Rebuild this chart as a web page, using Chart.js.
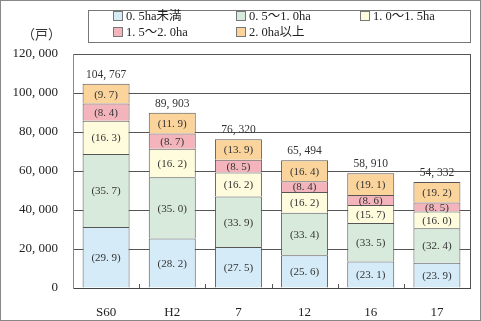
<!DOCTYPE html>
<html>
<head>
<meta charset="utf-8">
<script src="https://cdn.jsdelivr.net/npm/chart.js@4"></script>
<style>
  body { margin: 0; background: #fff; }
  #wrap { position: relative; width: 481px; height: 321px; }
  #unit {
    position: absolute; left: 22px; top: 24px;
    font: 13px 'Liberation Serif', 'Noto Sans CJK JP', serif; color: #333;
  }
  #legend {
    position: absolute; left: 88px; top: 10px; width: 383px; height: 33px;
    border: 1px solid #777; box-sizing: border-box;
  }
  .item {
    position: absolute; white-space: nowrap; color: #222;
    font: 12.5px 'Liberation Serif', 'Noto Sans CJK JP', serif; line-height: 14px;
  }
  .item i {
    display: inline-block; width: 8px; height: 8px; border: 1px solid #777;
    margin-right: 3px; vertical-align: -1px;
  }
</style>
</head>
<body>
<div id="wrap">
  <canvas id="chart" width="481" height="321"></canvas>
  <div id="unit">（戸）</div>
  <div id="legend"></div>
</div>
<script>
// data
const categories = ['S60', 'H2', '7', '12', '16', '17'];
const totals = [104767, 89903, 76320, 65494, 58910, 54332];
// share of each farm size class (%)
const shareUnder05 = [29.9, 28.2, 27.5, 25.6, 23.1, 23.9];
const share05to10 = [35.7, 35.0, 33.9, 33.4, 33.5, 32.4];
const share10to15 = [16.3, 16.2, 16.2, 16.2, 15.7, 16.0];
const share15to20 = [8.4, 8.7, 8.5, 8.4, 8.6, 8.5];
const share20over = [9.7, 11.9, 13.9, 16.4, 19.1, 19.2];
const seriesNames = ['0. 5ha未満', '0. 5～1. 0ha', '1. 0～1. 5ha', '1. 5～2. 0ha', '2. 0ha以上'];
const yTicks = [0, 20000, 40000, 60000, 80000, 100000, 120000];

const seriesShares = [shareUnder05, share05to10, share10to15, share15to20, share20over];
const colors = ['#d5ebf8', '#d7eadb', '#fffbdd', '#f3b5bb', '#fbd49c'];
const FONT = "'Liberation Serif', 'Noto Sans CJK JP', serif";

const fmtNum = n => n.toLocaleString('en-US').replace(/,/g, ', ');
const fmtPct = v => '(' + v.toFixed(1).replace('.', '. ') + ')';

// legend (html, fixed columns like the original)
const legendPos = [[24, -2], [147, -2], [271, -2], [24, 14], [147, 14]];
const legend = document.getElementById('legend');
seriesNames.forEach((name, i) => {
    const el = document.createElement('div');
    el.className = 'item';
    el.style.left = legendPos[i][0] + 'px';
    el.style.top = legendPos[i][1] + 'px';
    el.innerHTML = '<i style="background:' + colors[i] + '"></i>' + name;
    legend.appendChild(el);
});

const datasets = seriesShares.map((shares, i) => ({
    label: seriesNames[i],
    data: shares.map((s, j) => totals[j] * s / 100),
    shares: shares,
    backgroundColor: colors[i],
    borderColor: '#555',
    // no bottom edge so stacked segments share one line
    borderWidth: { top: 1, left: 1, right: 1, bottom: 0 },
    borderSkipped: false,
    categoryPercentage: 1,
    barPercentage: 0.71
}));

const decorPlugin = {
    id: 'decor',
    beforeDraw(chart) {
        const ctx = chart.ctx;
        ctx.save();
        ctx.strokeStyle = '#888';
        ctx.lineWidth = 1;
        ctx.strokeRect(0.5, 0.5, 480, 320);
        ctx.restore();
    },
    afterDatasetsDraw(chart) {
        const ctx = chart.ctx;
        const area = chart.chartArea;
        const xs = chart.scales.x;
        ctx.save();
        // right frame line
        ctx.strokeStyle = '#555';
        ctx.lineWidth = 1;
        ctx.beginPath();
        ctx.moveTo(Math.round(area.right) + 0.5, area.top);
        ctx.lineTo(Math.round(area.right) + 0.5, area.bottom);
        // small ticks between categories
        for (let i = 1; i < categories.length; i++) {
            const x = Math.round((xs.getPixelForValue(i - 1) + xs.getPixelForValue(i)) / 2) + 0.5;
            ctx.moveTo(x, area.bottom);
            ctx.lineTo(x, area.bottom - 4);
        }
        ctx.stroke();

        // share labels inside segments
        ctx.fillStyle = '#333';
        ctx.textAlign = 'center';
        ctx.textBaseline = 'middle';
        ctx.font = '11px ' + FONT;
        chart.data.datasets.forEach((ds, di) => {
            chart.getDatasetMeta(di).data.forEach((bar, j) => {
                ctx.fillText(fmtPct(ds.shares[j]), bar.x, (bar.y + bar.base) / 2 + 1);
            });
        });
        // totals above bars
        ctx.font = '11.5px ' + FONT;
        const topMeta = chart.getDatasetMeta(chart.data.datasets.length - 1);
        topMeta.data.forEach((bar, j) => {
            ctx.fillText(fmtNum(totals[j]), bar.x, bar.y - 9);
        });
        ctx.restore();
    }
};

new Chart(document.getElementById('chart'), {
    type: 'bar',
    data: { labels: categories, datasets: datasets },
    options: {
        responsive: false,
        animation: false,
        devicePixelRatio: 1,
        layout: { padding: { top: 54, right: 11, bottom: 0, left: 0 } },
        plugins: { legend: { display: false }, tooltip: { enabled: false } },
        scales: {
            x: {
                stacked: true,
                grid: { display: false },
                border: { display: true, color: '#444', width: 1 },
                ticks: { color: '#222', padding: 9, font: { family: FONT, size: 13 } },
                afterFit: s => { s.height = 33; }
            },
            y: {
                stacked: true,
                min: 0,
                max: 120000,
                afterBuildTicks: s => { s.ticks = yTicks.map(v => ({ value: v })); },
                grid: { color: '#555', lineWidth: 1, drawTicks: false },
                border: { display: true, color: '#888', width: 1 },
                ticks: {
                    color: '#222', padding: 15,
                    font: { family: FONT, size: 13 },
                    callback: v => fmtNum(v)
                },
                afterFit: s => { s.width = 73; }
            }
        }
    },
    plugins: [decorPlugin]
});
</script>
</body>
</html>
